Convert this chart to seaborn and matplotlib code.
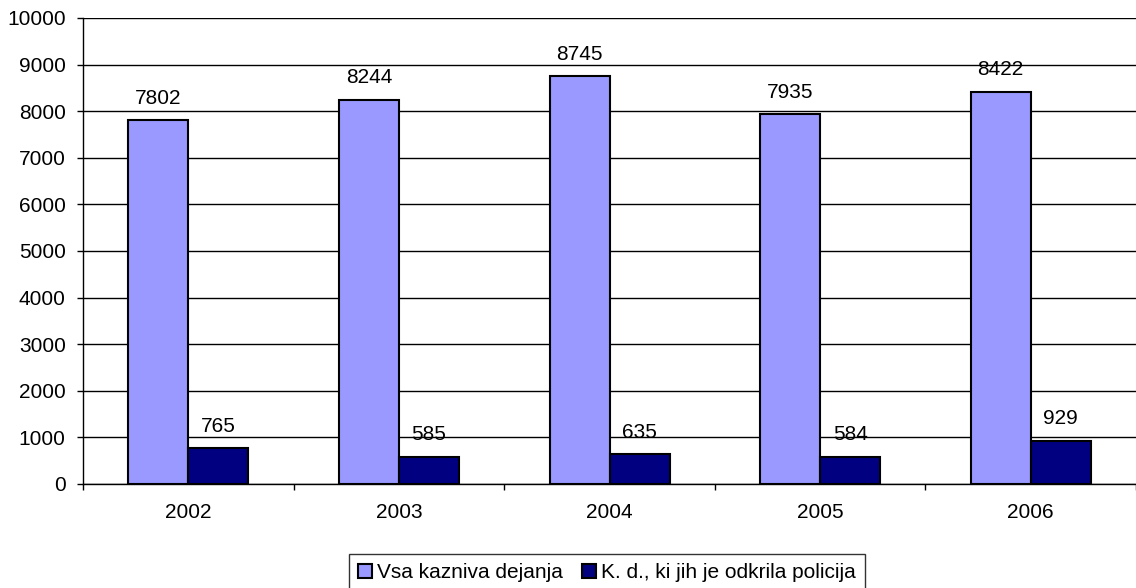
import pandas as pd
import matplotlib.pyplot as plt
import seaborn as sns
import numpy as np

# Data
years = ['2002', '2003', '2004', '2005', '2006']
vsa_kd = [7802, 8244, 8745, 7935, 8422]
policija_kd = [765, 585, 635, 584, 929]
series_names = ['Vsa kazniva dejanja', 'K. d., ki jih je odkrila policija']
colors = ['#9999FF', '#000080']

df = pd.DataFrame({
    'year': years * 2,
    'value': vsa_kd + policija_kd,
    'series': [series_names[0]] * len(years) + [series_names[1]] * len(years),
})

sns.set_style('white')
plt.rcParams['font.family'] = ['Liberation Sans', 'DejaVu Sans']
plt.rcParams['text.color'] = 'black'
plt.rcParams['xtick.color'] = 'black'
plt.rcParams['ytick.color'] = 'black'

fig = plt.figure(figsize=(11.36, 5.88), dpi=100)
ax = fig.add_axes([0.0731, 0.1769, 0.9269, 0.7925])

sns.barplot(data=df, x='year', y='value', hue='series', palette=colors, saturation=1,
            width=0.57, edgecolor='black', linewidth=1.5, ax=ax, legend=False)

# value labels above bars
for container in ax.containers:
    ax.bar_label(container, padding=9, fontsize=15, color='black')

ax.set_ylim(0, 10000)
ax.set_xlim(-0.5, 4.5)
ax.set_yticks(np.arange(0, 10001, 1000))
ax.yaxis.grid(True, color='black', linewidth=1)
ax.set_axisbelow(True)
ax.set_xlabel('')
ax.set_ylabel('')

for side in ['top', 'right']:
    ax.spines[side].set_visible(False)
for side in ['left', 'bottom']:
    ax.spines[side].set_color('black')
    ax.spines[side].set_linewidth(1)

ax.set_xticks(np.arange(-0.5, 5, 1), minor=True)
ax.tick_params(axis='x', which='major', length=0, labelsize=15, pad=14)
ax.tick_params(axis='x', which='minor', length=4.5, width=1, color='black', direction='out', bottom=True)
ax.tick_params(axis='y', length=4.5, width=1, color='black', direction='out', left=True, labelsize=15, pad=8)

handles = [plt.Rectangle((0, 0), 1, 1, facecolor=c, edgecolor='black', linewidth=1.5) for c in colors]
leg = fig.legend(handles, series_names, loc='upper left', bbox_to_anchor=(349 / 1136, (588 - 554) / 588),
                 ncol=2, fontsize=15, frameon=True, fancybox=False, handlelength=0.67, handleheight=0.6,
                 handletextpad=0.24, columnspacing=0.9, borderpad=0.45, borderaxespad=0)
leg.get_frame().set_edgecolor('black')
leg.get_frame().set_linewidth(1)

plt.savefig('out.png', dpi=100)
plt.close()
